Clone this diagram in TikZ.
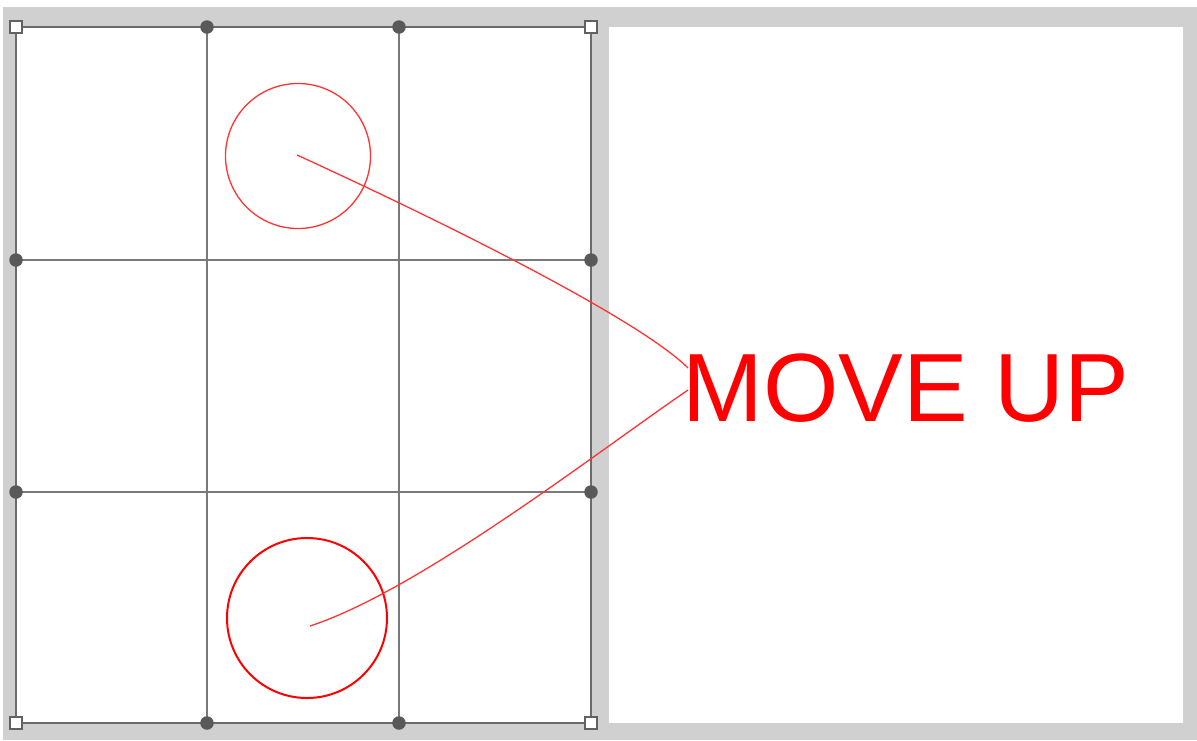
\documentclass[tikz,border=0pt]{standalone}
\usepackage{fontspec}
\setmainfont{Liberation Sans}
\begin{document}
\begin{tikzpicture}[x=1pt,y=-1pt,
  gridline/.style={draw=gray!95!black,line width=1.4pt},
  frameline/.style={draw=black!58,line width=1.8pt},
  cornerhandle/.style={draw=black!62,line width=1.8pt,fill=white,minimum size=12.5pt,inner sep=0pt,rectangle},
  midhandle/.style={fill=black!65,circle,minimum size=13.5pt,inner sep=0pt},
  redcurve/.style={draw=red!80,line width=1.3pt},
]
\definecolor{bggray}{HTML}{D0D0D0}
\useasboundingbox (0,0) rectangle (1197,740);
\fill[white] (0,0) rectangle (1197,740);
\fill[bggray] (3,7) rectangle (1197,740);
% panels
\fill[white] (16,27) rectangle (591,723);
\fill[white] (609,27) rectangle (1183,723);
% grid
\draw[gridline] (207,27) -- (207,723);
\draw[gridline] (399,27) -- (399,723);
\draw[gridline] (16,260) -- (591,260);
\draw[gridline] (16,492) -- (591,492);
\draw[frameline] (16,27) rectangle (591,723);
% handles
\node[cornerhandle] (h1) at (16,27) {};
\node[cornerhandle] (h2) at (591,27) {};
\node[cornerhandle] (h3) at (16,723) {};
\node[cornerhandle] (h4) at (591,723) {};
\node[midhandle] (m1) at (207,27) {};
\node[midhandle] (m2) at (399,27) {};
\node[midhandle] (m3) at (207,723) {};
\node[midhandle] (m4) at (399,723) {};
\node[midhandle] (m5) at (16,260) {};
\node[midhandle] (m6) at (16,492) {};
\node[midhandle] (m7) at (591,260) {};
\node[midhandle] (m8) at (591,492) {};
% circles
\node[circle,draw=red!80,line width=1.3pt,minimum size=145pt,inner sep=0pt] (c1) at (298,156) {};
\node[circle,draw=red,line width=2pt,minimum size=160pt,inner sep=0pt] (c2) at (307,618) {};
% text
\node[anchor=base west,inner sep=0pt,text=red,font=\fontsize{97}{97}\selectfont] (t) at (682,421) {MOVE UP};
% curve
\coordinate (s1) at (297,155);
\coordinate (s2) at (310,626);
\coordinate (e1) at (688,368);
\coordinate (e2) at (688,390);
\draw[redcurve] (s1) .. controls (450,225) and (640,320) .. (e1);
\draw[redcurve] (e2) .. controls (600,450) and (420,590) .. (s2);
\end{tikzpicture}
\end{document}
